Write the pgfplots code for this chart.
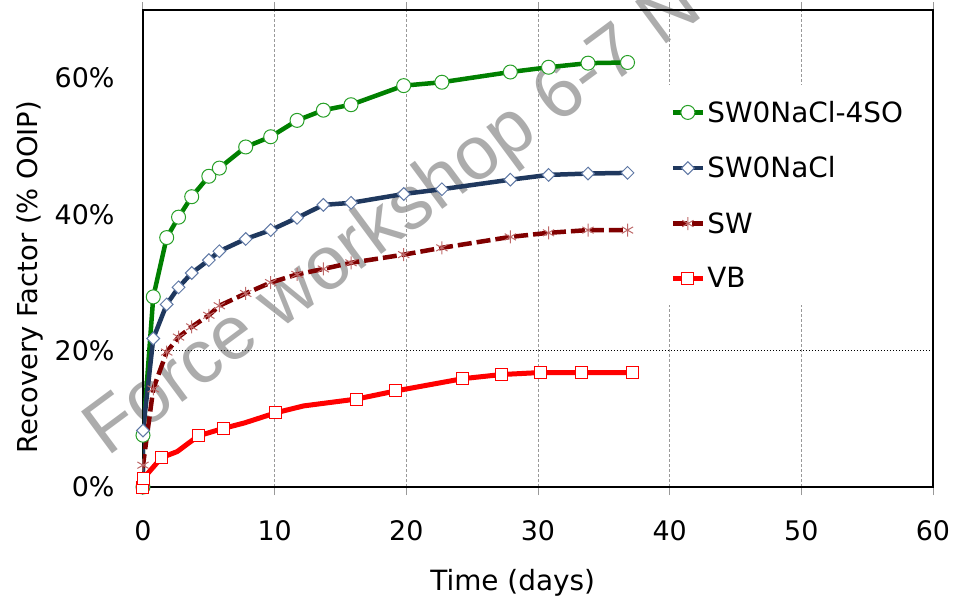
\documentclass[border=0pt]{standalone}
\usepackage{fontspec}
\setmainfont{DejaVu Sans}
\newfontfamily\wmfont{Liberation Sans}
\usepackage{pgfplots}
\usepackage{pgfplotstable}
\pgfplotsset{compat=1.18}
\definecolor{cgreen}{RGB}{0,128,0}
\definecolor{cgreenm}{RGB}{40,160,40}
\definecolor{cblue}{RGB}{31,56,94}
\definecolor{cbluem}{RGB}{95,120,165}
\definecolor{cdred}{RGB}{128,0,0}
\definecolor{cdredm}{RGB}{190,105,105}
\definecolor{cred}{RGB}{255,0,0}
\definecolor{wm}{RGB}{172,172,172}

\pgfplotstableread{
t r
0 0
0 7.6
0.78 27.9
1.8 36.6
2.7 39.6
3.7 42.6
5.0 45.6
5.8 46.8
7.8 49.9
9.7 51.4
11.7 53.8
13.7 55.3
15.8 56.1
19.8 58.9
22.7 59.4
27.9 60.9
30.8 61.6
33.8 62.2
36.8 62.3
}\tgreen
\pgfplotstableread{
t r
0 0
0 8.3
0.78 21.8
1.8 26.8
2.7 29.3
3.7 31.4
5.0 33.3
5.8 34.6
7.8 36.4
9.7 37.7
11.7 39.5
13.7 41.4
15.8 41.7
19.8 43.0
22.7 43.7
27.9 45.1
30.8 45.8
33.8 46.0
36.8 46.1
}\tblue
\pgfplotstableread{
t r
0 0
0 3.2
0.78 14.4
1.8 19.8
2.7 22.0
3.7 23.5
5.0 25.2
5.8 26.6
7.8 28.4
9.7 30.0
11.7 31.2
13.7 32.0
15.8 32.9
19.8 34.1
22.7 35.1
27.9 36.7
30.8 37.3
33.8 37.7
36.8 37.7
}\tsw
\pgfplotstableread{
t r
0 0
0.05 1.3
1.4 4.3
2.6 5.2
4.2 7.5
6.1 8.6
7.7 9.4
10.1 10.9
12.2 11.9
16.2 12.9
19.2 14.1
24.3 15.9
27.2 16.5
30.2 16.8
33.3 16.8
37.2 16.8
}\tvb

\begin{document}
\begin{tikzpicture}
\useasboundingbox (-143bp,-113bp) rectangle (811bp,487bp);
\node[rotate=36.5, anchor=base west, inner sep=0pt, text=wm,
  font=\wmfont\fontsize{76}{76}\selectfont] at (-36bp,29bp) {Force workshop 6-7 N};
\begin{axis}[
  at={(0,0)}, anchor=south west,
  scale only axis, width=790bp, height=477bp,
  xmin=0, xmax=60, ymin=0, ymax=70,
  xtick={0,10,...,60},
  ytick={0,20,40,60},
  yticklabels={0\%,20\%,40\%,60\%},
  ytick style={draw=none},
  xtick style={draw=gray!80, line width=1bp},
  tick align=outside,
  major tick length=8bp,
  xmajorgrids,
  major grid style={gray!80, line width=1bp, dash pattern=on 3bp off 2bp},
  extra y ticks={0,20},
  extra y tick labels={},
  extra y tick style={ymajorgrids, xmajorgrids=false,
     major grid style={black, line width=1bp, dash pattern=on 1.5bp off 1.5bp},
     tick style={draw=black, line width=1bp}},
  axis line style={black, line width=1.5bp},
  tick label style={font=\fontsize{27}{27}\selectfont},
  /pgf/number format/assume math mode=true,
  xticklabel style={yshift=-22bp},
  yticklabel style={xshift=-17bp},
  xlabel={Time (days)},
  xlabel style={at={(axis description cs:0.468,-0.2)}, anchor=center, font=\fontsize{28}{28}\selectfont},
  ylabel={Recovery Factor (\% OOIP)},
  ylabel style={at={(axis description cs:-0.143,0.44)}, anchor=center, font=\fontsize{27.5}{27.5}\selectfont},
  legend style={at={(axis description cs:0.661,0.843)}, anchor=north west,
     draw=none, fill=white, font=\fontsize{28}{28}\selectfont,
     row sep=29bp, inner xsep=5bp, inner ysep=14bp, nodes={inner xsep=2bp}},
  legend cell align=left,
  legend image code/.code={\draw[mark repeat=2, mark phase=2, #1] plot coordinates {(0bp,0bp) (15bp,0bp) (30bp,0bp)};},
]
\draw[black, line width=3bp] (rel axis cs:0,0) -- (rel axis cs:0,1);
\draw[black, line width=3bp] (rel axis cs:0,0) -- (rel axis cs:1,0);
\addplot[cgreen, line width=4.5bp, mark=*, mark size=7bp,
  mark options={solid, fill=white, draw=cgreenm, line width=1bp}] table[x=t,y=r] {\tgreen};
\addlegendentry{SW0NaCl-4SO}
\addplot[cblue, line width=4.5bp, mark=square*, mark size=4.5bp,
  mark options={solid, rotate=45, fill=white, draw=cbluem, line width=1bp}] table[x=t,y=r] {\tblue};
\addlegendentry{SW0NaCl}
\addplot[cdred, line width=4.5bp, dash pattern=on 14bp off 5bp, mark=asterisk, mark size=6.5bp,
  mark options={solid, draw=cdredm, line width=1bp}] table[x=t,y=r] {\tsw};
\addlegendentry{SW}
\addplot[cred, line width=5bp, mark=square*, mark size=6bp, forget plot,
  mark indices={1,2,3,5,6,8,10,11,12,13,14,15,16},
  mark options={solid, fill=white, draw=cred, line width=1bp}] table[x=t,y=r] {\tvb};
\addlegendimage{cred, line width=5bp, mark=square*, mark size=6bp,
  mark options={solid, fill=white, draw=cred, line width=1bp}}
\addlegendentry{VB}
\end{axis}
\end{tikzpicture}
\end{document}
